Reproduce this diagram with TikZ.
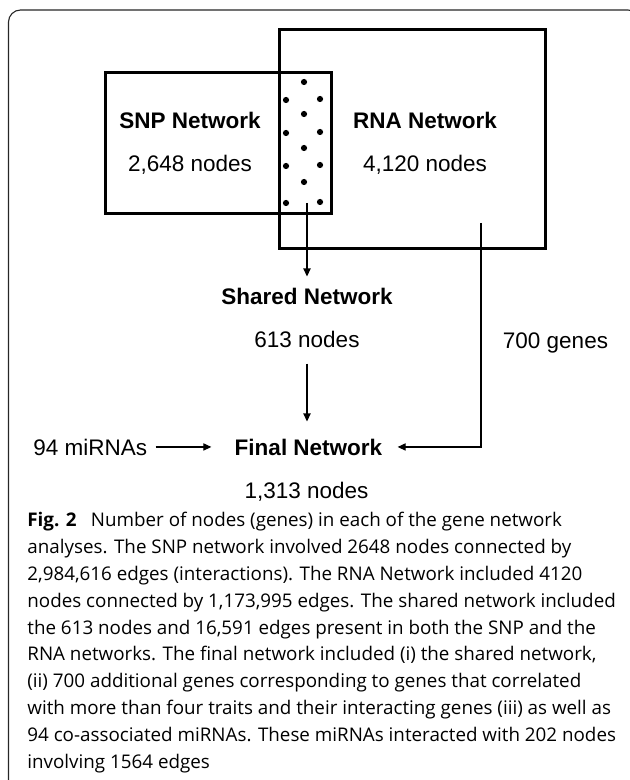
\documentclass[tikz,border=0pt]{standalone}
\usepackage{fontspec}
\setmainfont{Liberation Sans}
\newfontfamily\capfont{Open Sans}
\usetikzlibrary{arrows.meta,calc,positioning}

\begin{document}
\begin{tikzpicture}[
  x=0.5pt, y=-0.5pt,
  every node/.style={font=\fontsize{11.25}{13}\selectfont, inner sep=0pt},
  netbox/.style={
    draw=black,
    line width=1.4pt,
    anchor=north west
  },
  title/.style={font=\fontsize{11.25}{13}\selectfont\bfseries, anchor=base},
  count/.style={anchor=base},
  dot/.style={fill=black},
  arrow/.style={-{Triangle[length=4pt, width=3.6pt]}, line width=0.6pt, draw=black},
  frame/.style={draw=black!85, line width=0.55pt, rounded corners=6pt}
]
\useasboundingbox (0,0) rectangle (629,780);
\draw[frame] (8.5,10) rectangle (640,795);

% the two networks
\node[netbox, minimum width=133pt, minimum height=109.5pt] (rna) at (278,28) {};
\node[netbox, minimum width=113pt, minimum height=70.5pt] (snp) at (104,71) {};

\node[title] (snptitle) at (190,129) {SNP Network};
\node[count] (snpcount) at (190,172) {2,648 nodes};
\node[title] (rnatitle) at (425,129) {RNA Network};
\node[count] (rnacount) at (425,172) {4,120 nodes};

% shared genes in the overlap
\foreach \px/\py in {304/82,286/100,320/99,304/114,286/133,320/132,
                     304/148,286/166,320/165,304/182,286/203,320/202}
  \fill[dot] (\px,\py) circle[radius=1.55pt];

\node[title] (shared) at (307,305) {Shared Network};
\node[count] (sharedcount) at (307,347) {613 nodes};
\node[title] (final) at (308.5,455) {Final Network};
\node[count] (finalcount) at (306.5,498) {1,313 nodes};
\node[count] (genes) at (555.5,348) {700 genes};
\node[count, anchor=base west] (mirna) at (33,455) {94 miRNAs};

\coordinate (overlap) at (307,203);
\coordinate (rnaexit) at (481,223);

\draw[arrow, shorten >=5.9pt] (overlap) -- (overlap |- shared.north);
\draw[arrow, shorten <=8pt, shorten >=8.4pt] (sharedcount.south) -- (sharedcount.south |- final.north);
\draw[arrow, shorten >=7.5pt] (rnaexit) |- (final.east);
\draw[arrow, shorten <=4pt, shorten >=11.5pt] (mirna.east) -- (final.west);

% caption (base anchor sits on the last line)
\node[anchor=base west, align=left, font=\capfont\fontsize{9.4}{13.4}\selectfont] (caption) at (27,768)
  {\textbf{Fig. 2}\hspace{0.5em} Number of nodes (genes) in each of the gene network\\
   analyses. The SNP network involved 2648 nodes connected by\\
   2,984,616 edges (interactions). The RNA Network included 4120\\
   nodes connected by 1,173,995 edges. The shared network included\\
   the 613 nodes and 16,591 edges present in both the SNP and the\\
   RNA networks. The final network included (i) the shared network,\\
   (ii) 700 additional genes corresponding to genes that correlated\\
   with more than four traits and their interacting genes (iii) as well as\\
   94 co-associated miRNAs. These miRNAs interacted with 202 nodes\\
   involving 1564 edges};
\end{tikzpicture}
\end{document}
